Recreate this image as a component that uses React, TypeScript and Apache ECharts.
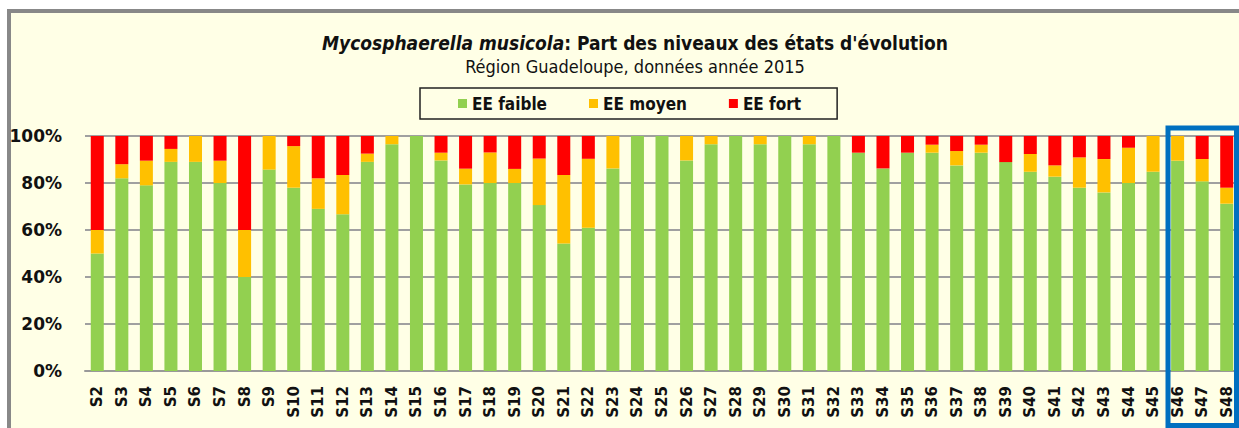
import React, { useEffect, useRef } from "react";
import * as echarts from "echarts";

const categories = [
  "S2","S3","S4","S5","S6","S7","S8","S9","S10","S11","S12","S13","S14","S15","S16","S17",
  "S18","S19","S20","S21","S22","S23","S24","S25","S26","S27","S28","S29","S30","S31","S32",
  "S33","S34","S35","S36","S37","S38","S39","S40","S41","S42","S43","S44","S45","S46","S47","S48",
];

const eeFaible = [
  50, 82, 79, 89, 89, 80, 40, 85.7, 78, 69, 66.7, 89, 96.5, 100, 89.6, 79.4,
  80, 80, 70.6, 54.3, 61, 86.2, 100, 100, 89.6, 96.5, 100, 96.5, 100, 96.5, 100,
  92.9, 86.2, 92.9, 92.9, 87.5, 92.9, 88.9, 84.8, 82.7, 78, 76, 80, 84.8, 89.5, 80.7, 71.2,
];

const eeMoyen = [
  10, 6, 10.5, 5.5, 11, 9.5, 20, 14.3, 17.7, 13, 16.7, 3.5, 3.5, 0, 3.3, 6.7,
  13, 6, 19.8, 29.1, 29.3, 13.8, 0, 0, 10.4, 3.5, 0, 3.5, 0, 3.5, 0,
  0, 0, 0, 3.4, 6.1, 3.4, 0, 7.5, 4.8, 12.9, 14.2, 15, 15.2, 10.5, 9.5, 6.8,
];

const eeFort = [
  40, 12, 10.5, 5.5, 0, 10.5, 40, 0, 4.3, 18, 16.6, 7.5, 0, 0, 7.1, 13.9,
  7, 14, 9.6, 16.6, 9.7, 0, 0, 0, 0, 0, 0, 0, 0, 0, 0,
  7.1, 13.8, 7.1, 3.7, 6.4, 3.7, 11.1, 7.7, 12.5, 9.1, 9.8, 5, 0, 0, 9.8, 22,
];

const yTicks = [0, 20, 40, 60, 80, 100];

const FONT = "'Liberation Sans Narrow', 'DejaVu Sans Condensed', 'Noto Sans', sans-serif";
const AXIS_FONT = "'DejaVu Sans', Verdana, sans-serif";

export default function App() {
  const ref = useRef<HTMLDivElement>(null);

  useEffect(() => {
    if (!ref.current) return;
    const chart = echarts.init(ref.current, undefined, { renderer: "svg" });
    const barWidth = "53%";
    chart.setOption({
      animation: false,
      backgroundColor: "#ffffff",
      textStyle: { fontFamily: FONT },
      graphic: [
        {
          type: "rect",
          z: -10,
          silent: true,
          shape: { x: 9, y: 11, width: 1300, height: 500 },
          style: { fill: "#FFFFE6", stroke: "#888888", lineWidth: 4 },
        },
        {
          type: "rect",
          z: 100,
          silent: true,
          shape: { x: 1168, y: 128, width: 68.5, height: 297.5 },
          style: { fill: "none", stroke: "#0070C0", lineWidth: 5 },
        },
      ],
      title: {
        left: 630,
        top: 28,
        textAlign: "center",
        text: "{i|Mycosphaerella musicola}{b|: Part des niveaux des états d'évolution}",
        textStyle: {
          rich: {
            i: { fontFamily: FONT, fontSize: 19, fontWeight: "bold", fontStyle: "italic", color: "#111" },
            b: { fontFamily: FONT, fontSize: 19, fontWeight: "bold", color: "#111" },
          },
        },
        subtext: "Région Guadeloupe, données année 2015",
        subtextStyle: { fontFamily: FONT, fontSize: 18, color: "#111" },
        itemGap: 5,
      },
      legend: {
        left: 420,
        top: 88,
        padding: [7, 36, 7, 38],
        borderColor: "#222",
        borderWidth: 1.5,
        itemWidth: 9,
        itemHeight: 9,
        itemGap: 42,
        icon: "rect",
        textStyle: { fontFamily: FONT, fontSize: 17, fontWeight: "bold", color: "#111" },
        data: ["EE faible", "EE moyen", "EE fort"],
      },
      grid: { left: 85, top: 136, width: 1154, height: 235, containLabel: false },
      xAxis: {
        type: "category",
        data: categories,
        axisTick: { show: false },
        axisLine: { lineStyle: { color: "#999", width: 2 } },
        axisLabel: {
          interval: 0,
          rotate: 90,
          margin: 15,
          fontFamily: AXIS_FONT,
          fontSize: 15,
          fontWeight: "bold",
          color: "#111",
        },
      },
      yAxis: {
        type: "value",
        min: 0,
        max: 100,
        interval: 20,
        axisLine: { show: false },
        axisTick: { show: false },
        splitLine: { lineStyle: { color: "#A0A0A0", width: 2 } },
        axisLabel: {
          formatter: (v: number) => (yTicks.includes(v) ? v + "%" : ""),
          margin: 23,
          fontFamily: AXIS_FONT,
          fontSize: 17,
          fontWeight: "bold",
          color: "#111",
        },
      },
      series: [
        { name: "EE faible", type: "bar", stack: "t", data: eeFaible, barWidth, itemStyle: { color: "#92D050" } },
        { name: "EE moyen", type: "bar", stack: "t", data: eeMoyen, barWidth, itemStyle: { color: "#FFC000" } },
        { name: "EE fort", type: "bar", stack: "t", data: eeFort, barWidth, itemStyle: { color: "#FF0000" } },
      ],
    });
    return () => chart.dispose();
  }, []);

  return (
    <div
      ref={ref}
      style={{ position: "fixed", left: 0, top: 0, width: 1239, height: 428 }}
    />
  );
}
